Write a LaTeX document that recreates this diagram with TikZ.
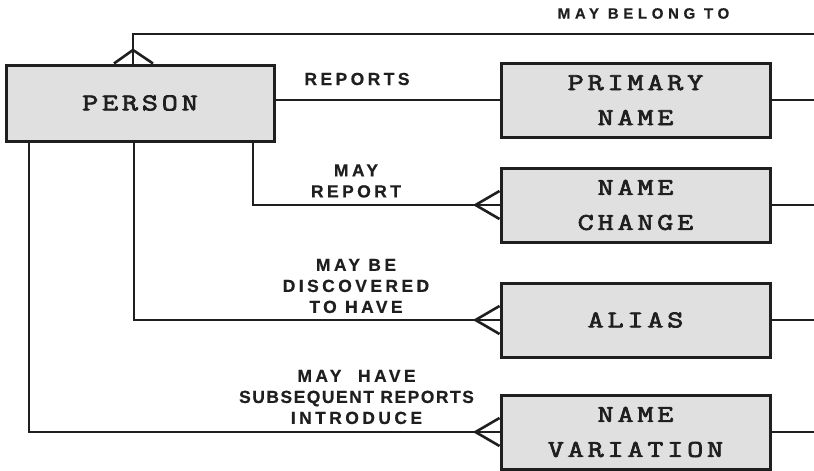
\documentclass[tikz,border=0pt]{standalone}
\usepackage{fontspec}
\newfontfamily\boxfont[LetterSpace=16,FakeBold=3,FakeStretch=1.3]{Latin Modern Mono}
\newfontfamily\lblfont[LetterSpace=19.5,FakeBold=0.5]{Liberation Sans Bold}
\newfontfamily\lblfontnarrow[LetterSpace=8.5,FakeBold=0.5]{Liberation Sans Bold}
\newfontfamily\lblfontwide[LetterSpace=31,FakeBold=0.5]{Liberation Sans Bold}
\begin{document}
\begin{tikzpicture}[x=1pt,y=-1pt,
  line width=2.6pt,
  entity/.style={draw=black!88, fill=black!12, line width=3pt, minimum width=269pt, minimum height=74pt,
    inner sep=0pt, align=center, font=\boxfont\fontsize{24}{35}\selectfont, text=black!88},
  lbl/.style={align=center, font=\lblfont\fontsize{17.5}{21}\selectfont, text=black!88, inner sep=0pt},
  conn/.style={draw=black!88, line width=2.6pt}]
\useasboundingbox (0,0) rectangle (814,471);
\node[entity, minimum width=268pt, minimum height=76pt] (person) at (140,103) {PERSON};
\node[entity] (primary) at (635.5,100) {PRIMARY\\NAME};
\node[entity] (change) at (635.5,205) {NAME\\CHANGE};
\node[entity] (alias) at (635.5,320) {ALIAS};
\node[entity] (variation) at (635.5,432) {NAME\\VARIATION};
\coordinate (edge) at (814,34);
\coordinate (top) at (133,34);
% may belong to
\draw[conn] (133,0 |- person.north) -- (top) -- (edge);
\draw[conn] (114,0 |- person.north) -- (133,50) -- (153,0 |- person.north);
% outgoing right lines
\foreach \n in {primary,change,alias,variation}
  \draw[conn] (\n.east) -- (\n.east -| edge);
% reports
\draw[conn] (primary.west) -- (primary.west -| person.east);
% may report / may be discovered / may have
\draw[conn] (253,0 |- person.south) |- (change.west);
\draw[conn] (134,0 |- person.south) |- (alias.west);
\draw[conn] (29,0 |- person.south) |- (variation.west);
\foreach \n in {change,alias,variation}
  \draw[conn] ([shift={(0,-14)}]\n.west) -- ([shift={(-24,0)}]\n.west) -- ([shift={(0,14)}]\n.west);
% labels
\node[lbl, font=\lblfontwide\fontsize{15}{20}\selectfont] (l1) at (643.5,13.5) {MAY BELONG TO};
\node[lbl] (l2) at (357,79) {REPORTS};
\node[lbl] (l3) at (356,181) {MAY\\REPORT};
\node[lbl] (l4) at (356,286) {MAY BE\\DISCOVERED\\TO HAVE};
\node[lbl] (l5) at (356.5,397) {MAY\ \ HAVE\\{\lblfontnarrow SUBSEQUENT REPORTS}\\INTRODUCE};
\end{tikzpicture}
\end{document}
